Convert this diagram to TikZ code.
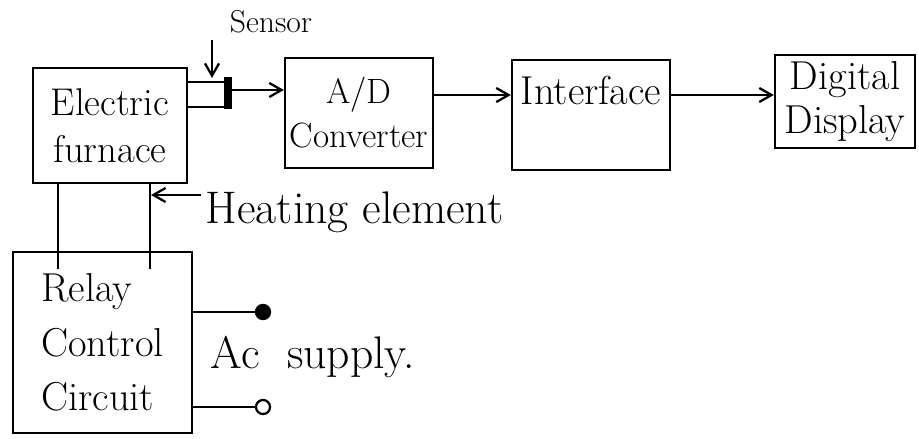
\documentclass[tikz,border=0pt]{standalone}
\usetikzlibrary{arrows.meta, calc}

\begin{document}
\begin{tikzpicture}[
    x=0.02cm, y=-0.02cm, % one unit is one pixel of the sketch
    >={Straight Barb[length=7pt, width=8pt]}, % Default arrow tip
    line width=1.3pt,
    boxstyle/.style={draw, rectangle, align=center, inner sep=1pt,
        font=\fontsize{22}{27}\selectfont},
    labelstyle/.style={inner sep=2pt, font=\fontsize{26}{30}\selectfont},
    terminal/.style={draw, circle, inner sep=0pt, minimum size=8pt}
]
    \def\px{0.02cm} % size of one pixel

    % Fix the page to the sketch size
    \useasboundingbox (0,0) rectangle (919,439);

    % --- Blocks ---
    \node[boxstyle, minimum width=154*\px, minimum height=115*\px] (furnace) at (110,125.5) {Electric\\furnace};
    \node[boxstyle, font=\fontsize{20}{25}\selectfont, minimum width=148*\px, minimum height=110*\px] (adc) at (359,113) {A/D\\Converter};
    \node[boxstyle, font=\fontsize{23}{27}\selectfont, minimum width=158*\px, minimum height=110*\px, text depth=50*\px] (interface) at (591,115) {Interface};
    \node[boxstyle, font=\fontsize{23}{25}\selectfont, minimum width=140*\px, minimum height=93*\px] (display) at (845,101.5) {Digital\\Display};
    \node[boxstyle, font=\fontsize{23}{31}\selectfont, align=left, minimum width=179*\px, minimum height=181*\px] (relay) at (102.5,342.5) {Relay\\Control\\Circuit};

    % --- Sensor on the furnace ---
    \node[draw, fill, rectangle, inner sep=0pt, minimum width=3pt, minimum height=30*\px] (sensorbar) at (228,93) {};
    \node[labelstyle, font=\fontsize{18}{20}\selectfont] (sensorlabel) at (271,22) {Sensor};
    \coordinate (sensortop) at (212,40);
    \draw (furnace.east |- 0,82) -- (sensorbar.west |- 0,82);
    \draw (furnace.east |- 0,107) -- (sensorbar.west |- 0,107);
    \draw[->] (sensortop) -- (sensortop |- 0,78);

    % --- Signal path ---
    \draw[->] (sensorbar.east |- 0,90) -- (adc.west |- 0,90);
    \draw[->] (adc.east |- 0,95) -- (interface.west |- 0,95);
    \draw[->] (interface.east |- 0,95) -- (display.west |- 0,95);

    % --- Heating element wires ---
    \draw (furnace.south -| 58,0) -- (relay.north -| 58,0) -- ++(0,18);
    \draw (furnace.south -| 150,0) -- (relay.north -| 150,0) -- ++(0,18);
    \node[labelstyle, anchor=west] (heatlabel) at (201,212) {Heating element};
    \coordinate (heatin) at (151,195);
    \draw[->] (heatlabel.west |- heatin) -- (heatin);

    % --- AC supply terminals ---
    \node[terminal, fill=black] (acp) at (263,312) {};
    \node[terminal, fill=white] (acn) at (263,407) {};
    \draw (relay.east |- acp) -- (acp);
    \draw (relay.east |- acn) -- (acn);
    \node[labelstyle, anchor=west] (aclabel) at (206,357) {Ac\hspace{0.6em}supply.};
\end{tikzpicture}
\end{document}
